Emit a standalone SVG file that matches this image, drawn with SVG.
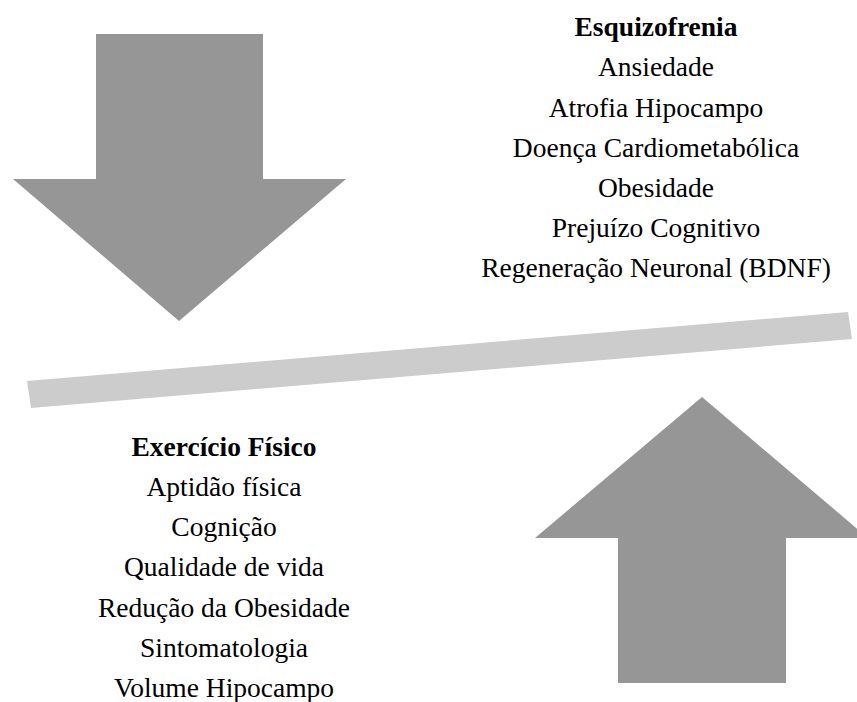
<svg xmlns="http://www.w3.org/2000/svg" width="857" height="702" viewBox="0 0 857 702">
<style>
.arrow{fill:#969696;}
.bar{fill:#cccccc;}
.t{font-family:"Liberation Serif","Times New Roman",serif;font-size:27.5px;fill:#000;text-anchor:middle;}
.b{font-weight:bold;}
</style>
<rect width="857" height="702" fill="#fff"/>
<g id="arrow-down">
<polygon class="arrow" points="96,34 263,34 263,179 346,179 179,321 13,179 96,179"/>
</g>
<g id="arrow-up">
<polygon class="arrow" points="618,683 786,683 786,538 868,538 702,397 535,538 618,538"/>
</g>
<g id="balance-bar">
<polygon class="bar" points="27,381 848,312 852,339 31,408"/>
</g>
<g id="esquizofrenia">
<text class="t b" x="656" y="36">Esquizofrenia</text>
<text class="t" x="656" y="76">Ansiedade</text>
<text class="t" x="656" y="117">Atrofia Hipocampo</text>
<text class="t" x="656" y="157">Doença Cardiometabólica</text>
<text class="t" x="656" y="197">Obesidade</text>
<text class="t" x="656" y="237">Prejuízo Cognitivo</text>
<text class="t" x="656" y="277">Regeneração Neuronal (BDNF)</text>
</g>
<g id="exercicio">
<text class="t b" x="224" y="456">Exercício Físico</text>
<text class="t" x="224" y="496">Aptidão física</text>
<text class="t" x="224" y="536">Cognição</text>
<text class="t" x="224" y="576">Qualidade de vida</text>
<text class="t" x="224" y="617">Redução da Obesidade</text>
<text class="t" x="224" y="657">Sintomatologia</text>
<text class="t" x="224" y="697">Volume Hipocampo</text>
</g>
</svg>
